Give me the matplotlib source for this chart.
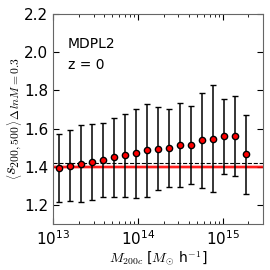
import numpy as np
import matplotlib
matplotlib.use('Agg')
import matplotlib.pyplot as plt

plt.rcParams['mathtext.fontset'] = 'cm'
plt.rcParams['font.family'] = 'DejaVu Sans'

# halo mass bins (log10 M200c) and mean concentration ratio
logm = [13.074, 13.203, 13.333, 13.463, 13.592, 13.722, 13.851, 13.981, 14.110,
        14.240, 14.370, 14.499, 14.629, 14.758, 14.888, 15.018, 15.147, 15.277]
s_mean = [1.395, 1.406, 1.416, 1.427, 1.437, 1.449, 1.461, 1.470, 1.486,
          1.494, 1.496, 1.513, 1.513, 1.538, 1.547, 1.559, 1.562, 1.465]
s_top = [1.574, 1.592, 1.618, 1.623, 1.632, 1.656, 1.675, 1.705, 1.730,
         1.714, 1.701, 1.733, 1.717, 1.787, 1.827, 1.757, 1.771, 1.670]
s_bot = [1.216, 1.219, 1.216, 1.228, 1.242, 1.244, 1.244, 1.237, 1.242,
         1.277, 1.294, 1.294, 1.308, 1.287, 1.270, 1.364, 1.351, 1.257]

ref_val = 1.40
ref_lo, ref_hi = 1.39, 1.412
dash_val = 1.42

mass = 10 ** np.array(logm)
s_mean = np.array(s_mean)
err = [s_mean - np.array(s_bot), np.array(s_top) - s_mean]

fig = plt.figure(figsize=(2.7, 2.7), dpi=100)
ax = fig.add_axes([0.197, 0.17, 0.776, 0.778])

ax.axhspan(ref_lo, ref_hi, color='red', alpha=0.3, lw=0)
ax.axhline(ref_val, color='red', lw=1.2)
ax.axhline(dash_val, color='k', lw=0.8, ls='--')

ax.errorbar(mass, s_mean, yerr=err, fmt='o', color='k', ecolor='k',
            mfc='red', mec='k', ms=4.5, mew=1, elinewidth=1.1, capsize=2, capthick=1.1)

ax.set_xscale('log')
ax.set_xlim(1e13, 2.95e15)
ax.set_ylim(1.1, 2.2)
ax.set_yticks([1.2, 1.4, 1.6, 1.8, 2.0, 2.2])

ax.tick_params(which='both', direction='in', top=True, right=True, labelsize=11)
ax.tick_params(which='major', length=4)
ax.tick_params(which='minor', length=2)
for s in ax.spines.values():
    s.set_color('0.4')

ax.text(0.07, 0.84, 'MDPL2', transform=ax.transAxes, fontsize=10)
ax.text(0.07, 0.74, 'z = 0', transform=ax.transAxes, fontsize=10)

ax.set_xlabel(r'$M_{200c}$ [$M_{\odot}$ h$^{-1}$]', fontsize=10, labelpad=1)
ax.set_ylabel(r'$\left\langle s_{200,500}\right\rangle_{\Delta\, lnM = 0.3}$', fontsize=12,
              labelpad=0)

fig.savefig('out.png', dpi=100)
